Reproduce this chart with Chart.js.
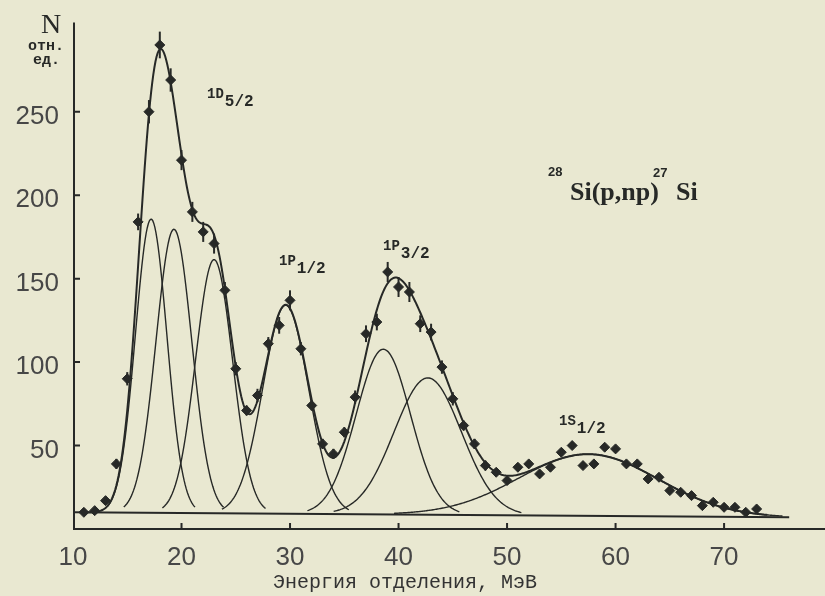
<!DOCTYPE html>
<html>
<head>
<meta charset="utf-8">
<script src="https://cdn.jsdelivr.net/npm/chart.js@4.4.1/dist/chart.umd.min.js"></script>
<style>
  html, body { margin: 0; padding: 0; background: #e9e8d1; }
  canvas { display: block; }
</style>
</head>
<body>
<canvas id="spectrum" width="825" height="596"></canvas>
<script>
const INK = '#272927';
const PAPER = '#e9e8d1';

// measured spectrum: separation energy (MeV) and counts (rel. units)
const energies = [11, 12, 13, 14, 15, 16, 17, 18, 19, 20,
                  21, 22, 23, 24, 25, 26, 27, 28, 29, 30,
                  31, 32, 33, 34, 35, 36, 37, 38, 39, 40,
                  41, 42, 43, 44, 45, 46, 47, 48, 49, 50,
                  51, 52, 53, 54, 55, 56, 57, 58, 59, 60,
                  61, 62, 63, 64, 65, 66, 67, 68, 69, 70,
                  71, 72, 73];
const counts = [10, 11, 17, 39, 90, 184, 250, 290, 269, 221,
                190, 178, 171, 143, 96, 71, 80, 111, 122, 137,
                108, 74, 51, 45, 58, 79, 117, 124, 154, 145,
                142, 123, 118, 97, 78, 62, 51, 38, 34, 29,
                37, 39, 33, 37, 46, 50, 38, 39, 49, 48,
                39, 39, 30, 31, 23, 22, 20, 14, 16, 13,
                13, 10, 12];
const countErrors = [0, 0, 2, 3, 4, 5, 7, 8, 7, 6,
                     6, 6, 6, 5, 4, 3, 4, 4, 5, 6,
                     4, 3, 3, 3, 3, 4, 5, 5, 6, 6,
                     6, 5, 5, 4, 4, 3, 3, 3, 2, 2,
                     2, 2, 2, 2, 2, 2, 2, 2, 2, 2,
                     2, 2, 2, 2, 2, 2, 2, 2, 2, 2,
                     2, 2, 2];

// fitted shell components (1d5/2 x3, 1p1/2, 1p3/2 x2, 1s1/2)
const shellCentres = [17.2, 19.3, 23.0, 29.6, 38.6, 42.7, 57.5];
const shellHeights = [176, 170, 152, 125, 99, 82, 37];
const shellSigmas  = [1.45, 1.65, 1.7, 2.1, 2.5, 3.1, 6.4];

// linear background under the fit
const backgroundEnergies = [10, 76];
const backgroundLevels = [10, 7];

const xTickLabels = [10, 20, 30, 40, 50, 60, 70];
const yTickLabels = [50, 100, 150, 200, 250];

function background(e) {
  const t = (e - backgroundEnergies[0]) / (backgroundEnergies[1] - backgroundEnergies[0]);
  return backgroundLevels[0] + (backgroundLevels[1] - backgroundLevels[0]) * t;
}

function shell(i, e) {
  const d = (e - shellCentres[i]) / shellSigmas[i];
  return shellHeights[i] * Math.exp(-0.5 * d * d);
}

function sample(from, to, fn) {
  const pts = [];
  for (let e = from; e <= to + 1e-9; e += 0.1) {
    pts.push({ x: e, y: fn(e) });
  }
  return pts;
}

const totalFit = sample(10.8, 74, e => {
  let s = background(e);
  for (let i = 0; i < shellCentres.length; i++) s += shell(i, e);
  return s;
});

const componentSets = shellCentres.map((c, i) => ({
  data: sample(c - 2.8 * shellSigmas[i], c + 2.8 * shellSigmas[i], e => background(e) + shell(i, e)),
  showLine: true,
  borderColor: INK,
  borderWidth: 1.4,
  pointRadius: 0,
  tension: 0
}));

const datasets = [
  {
    data: energies.map((e, i) => ({ x: e, y: counts[i] })),
    showLine: false,
    pointStyle: 'rectRot',
    pointRadius: 5,
    backgroundColor: INK,
    borderColor: INK,
    borderWidth: 1
  },
  {
    data: totalFit,
    showLine: true,
    borderColor: INK,
    borderWidth: 2,
    pointRadius: 0,
    tension: 0
  },
  ...componentSets,
  {
    data: backgroundEnergies.map((e, i) => ({ x: e, y: backgroundLevels[i] })),
    showLine: true,
    borderColor: INK,
    borderWidth: 2,
    pointRadius: 0
  }
];

// level label: main part plus a lowered j-value
function levelLabel(ctx, main, sub, left, base) {
  ctx.font = 'bold 14px "Liberation Mono"';
  ctx.fillText(main, left, base);
  const w = ctx.measureText(main).width;
  ctx.font = 'bold 16px "Liberation Mono"';
  ctx.fillText(sub, left + w + 1, base + 8);
}

const inkwork = {
  id: 'inkwork',
  beforeDraw(chart) {
    const ctx = chart.ctx;
    ctx.save();
    ctx.fillStyle = PAPER;
    ctx.fillRect(0, 0, chart.width, chart.height);
    ctx.restore();
  },
  afterDatasetsDraw(chart) {
    const { ctx, scales: { x, y } } = chart;
    ctx.save();
    ctx.strokeStyle = INK;
    ctx.fillStyle = INK;
    ctx.lineWidth = 2;

    // error bars
    energies.forEach((e, i) => {
      if (!countErrors[i]) return;
      const px = x.getPixelForValue(e);
      ctx.beginPath();
      ctx.moveTo(px, y.getPixelForValue(counts[i] - countErrors[i]));
      ctx.lineTo(px, y.getPixelForValue(counts[i] + countErrors[i]));
      ctx.stroke();
    });

    // axes with inward ticks
    const ax = x.left + 1;
    const ay = y.getPixelForValue(0);
    ctx.beginPath();
    ctx.moveTo(ax, y.top + 1);
    ctx.lineTo(ax, ay);
    ctx.lineTo(chart.width, ay);
    ctx.stroke();
    ctx.beginPath();
    y.ticks.forEach(t => {
      if (t.value <= 0 || t.value % 50 !== 0) return;
      const py = y.getPixelForValue(t.value);
      ctx.moveTo(ax, py);
      ctx.lineTo(ax + 6, py);
    });
    x.ticks.forEach(t => {
      if (t.value <= 10 || t.value % 10 !== 0) return;
      const px = x.getPixelForValue(t.value);
      ctx.moveTo(px, ay);
      ctx.lineTo(px, ay - 6);
    });
    ctx.stroke();

    // axis captions
    ctx.textBaseline = 'alphabetic';
    ctx.textAlign = 'left';
    ctx.font = '28px "Liberation Serif"';
    ctx.fillText('N', 41, 33);
    ctx.font = 'bold 15px "Liberation Mono"';
    ctx.fillText('отн.', 28, 50);
    ctx.fillText('ед.', 33, 64);
    ctx.font = '20px "Liberation Mono"';
    ctx.fillStyle = '#333';
    ctx.fillText('Энергия отделения, МэВ', 273, 588);
    ctx.fillStyle = INK;

    // shell labels
    levelLabel(ctx, '1D', '5/2', 207, 98);
    levelLabel(ctx, '1P', '1/2', 279, 265);
    levelLabel(ctx, '1P', '3/2', 383, 250);
    levelLabel(ctx, '1S', '1/2', 559, 425);

    // reaction
    ctx.font = 'bold 13px "Liberation Sans"';
    ctx.fillText('28', 548, 176);
    ctx.fillText('27', 653, 177);
    ctx.font = 'bold 26px "Liberation Serif"';
    ctx.fillText('Si(p,np)', 570, 200);
    ctx.fillText('Si', 676, 200);
    ctx.restore();
  }
};

new Chart(document.getElementById('spectrum'), {
  type: 'scatter',
  data: { datasets },
  options: {
    responsive: false,
    devicePixelRatio: 1,
    animation: false,
    layout: { autoPadding: false, padding: { top: 21, left: 0, right: 0, bottom: 0 } },
    plugins: { legend: { display: false }, tooltip: { enabled: false } },
    scales: {
      x: {
        type: 'linear',
        min: 10,
        max: 79.3,
        grid: { display: false },
        border: { display: false },
        ticks: {
          stepSize: 10,
          autoSkip: false,
          maxRotation: 0,
          padding: 5,
          color: '#474747',
          font: { family: '"Liberation Sans"', size: 26 },
          callback: v => xTickLabels.includes(v) ? v : ''
        },
        afterFit(s) {
          s.height = 67;
          s.paddingLeft = 0;
          s.paddingRight = 0;
        }
      },
      y: {
        min: 0,
        max: 304,
        grid: { display: false },
        border: { display: false },
        ticks: {
          stepSize: 50,
          autoSkip: false,
          padding: 6,
          labelOffset: 5,
          color: '#474747',
          font: { family: '"Liberation Sans"', size: 26 },
          callback: v => yTickLabels.includes(v) ? v : ''
        },
        afterFit(s) { s.width = 73; }
      }
    }
  },
  plugins: [inkwork]
});
</script>
</body>
</html>
